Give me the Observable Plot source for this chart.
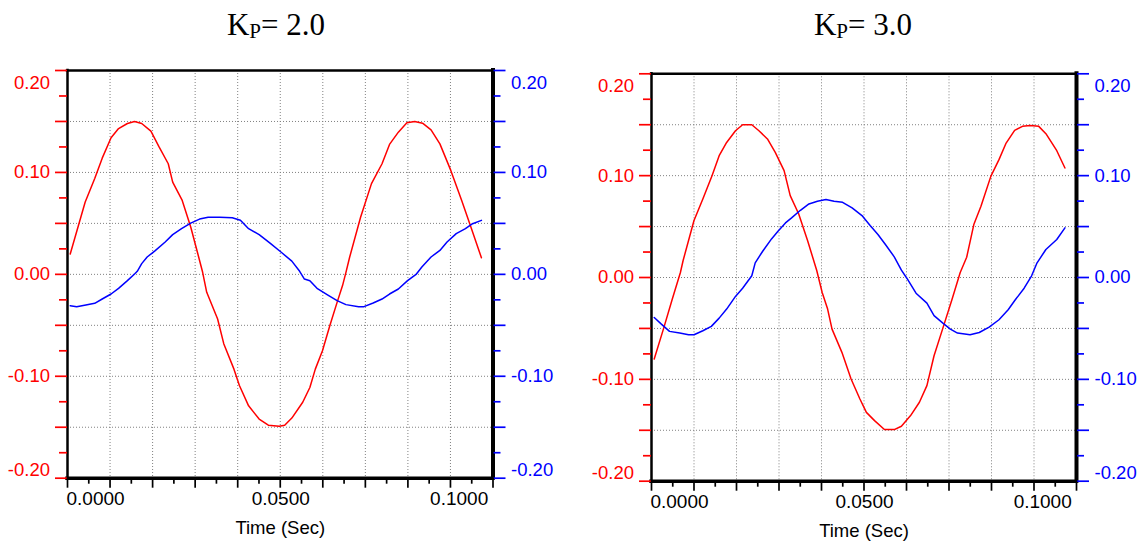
<!DOCTYPE html>
<html>
<head>
<meta charset="utf-8">
<script src="https://cdn.jsdelivr.net/npm/d3@7"></script>
<script src="https://cdn.jsdelivr.net/npm/@observablehq/plot@0.6"></script>
<style>
  html, body { margin: 0; padding: 0; background: #fff; }
  #root { position: relative; width: 1144px; height: 545px; background: #fff; overflow: hidden; }
  .title { position: absolute; top: 9px; width: 200px; text-align: center;
           font-family: "Liberation Serif", "Times New Roman", serif; font-size: 31px;
           line-height: 31px; color: #000; white-space: nowrap; }
  .title .sub { font-size: 21px; position: relative; top: 3px; }
  .panel { position: absolute; top: 0; }
</style>
</head>
<body>
<div id="root"></div>
<script>
// ---------- data ----------
const panelTitles = ["2.0", "3.0"];
const xDomain = [-0.0125, 0.1125];
const yDomain = [-0.2, 0.2];

const xMajorTicks = [-0.0125, 0, 0.0125, 0.025, 0.0375, 0.05, 0.0625, 0.075, 0.0875, 0.1, 0.1125];
const xMinorTicks = [-0.00625, 0.00625, 0.01875, 0.03125, 0.04375, 0.05625, 0.06875, 0.08125, 0.09375, 0.10625];
const xGridTicks = [0, 0.0125, 0.025, 0.0375, 0.05, 0.0625, 0.075, 0.0875, 0.1];
const yMajorTicks = [-0.2, -0.15, -0.1, -0.05, 0, 0.05, 0.1, 0.15, 0.2];
const yMinorTicks = [-0.175, -0.125, -0.075, -0.025, 0.025, 0.075, 0.125, 0.175];
const yGridTicks = [-0.15, -0.1, -0.05, 0, 0.05, 0.1, 0.15];
const xTickValues = [0, 0.05, 0.1];
const xTickLabels = ["0.0000", "0.0500", "0.1000"];
const yTickValues = [0.2, 0.1, 0, -0.1, -0.2];
const yTickLabels = ["0.20", "0.10", "0.00", "-0.10", "-0.20"];
const xAxisTitle = "Time (Sec)";

// Kp = 2.0
const kp2RedT = [-0.0117,-0.0073,-0.0045,-0.0023,0.0003,0.0025,0.0051,0.0072,0.0093,0.012,0.0144,0.0171,0.0184,0.0212,0.0237,0.0258,0.0272,0.0284,0.0316,0.0334,0.0364,0.038,0.0407,0.0438,0.0465,0.0497,0.0513,0.0534,0.0566,0.0587,0.0603,0.0624,0.0646,0.0667,0.0683,0.0693,0.0704,0.0736,0.0768,0.0799,0.0821,0.0847,0.0872,0.0895,0.0918,0.0943,0.0969,0.1001,0.1033,0.106,0.1091];
const kp2Red  = [0.020,0.071,0.094,0.114,0.134,0.143,0.148,0.150,0.148,0.1405,0.125,0.1085,0.0905,0.0725,0.0464,0.020,0.002,-0.0176,-0.0438,-0.068,-0.093,-0.109,-0.129,-0.142,-0.148,-0.149,-0.148,-0.141,-0.1255,-0.111,-0.093,-0.075,-0.050,-0.0275,-0.011,0.002,0.017,0.056,0.089,0.1085,0.1275,0.1395,0.1487,0.150,0.1483,0.1418,0.128,0.102,0.0725,0.0464,0.0163];
const kp2BlueT = [-0.0117,-0.0098,-0.0071,-0.0045,-0.0023,0.0003,0.0025,0.0051,0.0072,0.008,0.0093,0.0109,0.0131,0.0162,0.0184,0.021,0.0237,0.0263,0.0288,0.0322,0.0359,0.0383,0.0407,0.0438,0.047,0.0502,0.0534,0.0557,0.0571,0.0587,0.0608,0.064,0.0667,0.0693,0.073,0.0746,0.0773,0.0799,0.0821,0.0847,0.0874,0.09,0.0916,0.0943,0.0969,0.099,0.1017,0.1044,0.1065,0.1091];
const kp2Blue  = [-0.0307,-0.0317,-0.030,-0.0284,-0.0242,-0.0193,-0.0137,-0.0062,0.0003,0.003,0.0105,0.017,0.0228,0.0317,0.039,0.0448,0.0503,0.0542,0.056,0.056,0.0555,0.053,0.0448,0.039,0.0307,0.0219,0.013,0.003,-0.0046,-0.0062,-0.0137,-0.0203,-0.0258,-0.0297,-0.0317,-0.0317,-0.0281,-0.0242,-0.0193,-0.0144,-0.0062,0.0003,0.0072,0.017,0.0235,0.0317,0.040,0.0448,0.0497,0.053];

// Kp = 3.0
const kp3RedT = [-0.0117,-0.009,-0.0064,-0.004,-0.0032,0.000,0.0026,0.0053,0.0074,0.0096,0.0122,0.0143,0.017,0.0191,0.0216,0.0239,0.0265,0.0283,0.0308,0.0334,0.0361,0.0377,0.0393,0.0406,0.0435,0.0462,0.0488,0.0507,0.0531,0.056,0.0589,0.061,0.0637,0.0663,0.0685,0.0706,0.0732,0.0759,0.0783,0.0802,0.0823,0.0844,0.0873,0.0897,0.0918,0.0943,0.0966,0.0989,0.1014,0.1035,0.1067,0.1091];
const kp3Red  = [-0.080,-0.0507,-0.0213,0.0049,0.0167,0.0559,0.0771,0.100,0.1196,0.1326,0.1441,0.150,0.150,0.1441,0.136,0.1229,0.1049,0.0804,0.0624,0.0363,0.0069,-0.0147,-0.031,-0.0507,-0.0735,-0.0997,-0.1193,-0.1324,-0.1405,-0.1493,-0.1493,-0.146,-0.1356,-0.1225,-0.1062,-0.0768,-0.0497,-0.0213,0.0049,0.0199,0.052,0.0699,0.0993,0.1157,0.132,0.1444,0.1484,0.1493,0.1484,0.1412,0.1245,0.1075];
const kp3BlueT = [-0.0117,-0.0096,-0.0072,-0.0042,-0.0016,0.000,0.0026,0.0051,0.0074,0.0096,0.0122,0.0143,0.017,0.018,0.0202,0.0228,0.0247,0.0269,0.0287,0.0313,0.0338,0.0363,0.0388,0.0412,0.0437,0.0465,0.0494,0.0518,0.0541,0.0563,0.0589,0.061,0.0626,0.0653,0.0685,0.0706,0.0732,0.0754,0.0775,0.0812,0.0839,0.0868,0.0897,0.0924,0.0945,0.0971,0.0993,0.1009,0.1035,0.1067,0.1091];
const kp3Blue  = [-0.0392,-0.0458,-0.0529,-0.0546,-0.0562,-0.0562,-0.0523,-0.048,-0.0399,-0.031,-0.0186,-0.0105,0.0017,0.0144,0.0258,0.0379,0.0454,0.0536,0.0585,0.066,0.0722,0.0748,0.0765,0.0748,0.0738,0.0683,0.0608,0.051,0.0422,0.0324,0.0203,0.0072,-0.0007,-0.0154,-0.0252,-0.0375,-0.0448,-0.0507,-0.0546,-0.0562,-0.054,-0.0487,-0.0415,-0.0317,-0.0219,-0.0105,0.0017,0.0144,0.0275,0.0373,0.0487];

// ---------- drawing ----------
const FONT = '"Liberation Sans", Arial, Helvetica, sans-serif';
const RED = "#ff0000", BLUE = "#0000ff";

function panel(redT, red, blueT, blue, m) {
  const marks = [
    Plot.gridX({ticks: xGridTicks, stroke: "#808080", strokeOpacity: 1, strokeWidth: 1, strokeDasharray: "1,2"}),
    Plot.gridY({ticks: yGridTicks, stroke: "#808080", strokeOpacity: 1, strokeWidth: 1, strokeDasharray: "1,2"}),
    Plot.line(red, {x: redT, y: red, stroke: RED, strokeWidth: 1.5}),
    Plot.line(blue, {x: blueT, y: blue, stroke: BLUE, strokeWidth: 1.5}),
    // frame
    Plot.ruleX([xDomain[0]], {stroke: "black", strokeWidth: 2.5, strokeLinecap: "square"}),
    Plot.ruleY([yDomain[1]], {stroke: "black", strokeWidth: 2.5, strokeLinecap: "square"}),
    Plot.ruleX([xDomain[1]], {stroke: "black", strokeWidth: 4, strokeLinecap: "square"}),
    Plot.ruleY([yDomain[0]], {stroke: "black", strokeWidth: 3.5, strokeLinecap: "square"}),
    // ticks
    Plot.axisY({anchor: "left", ticks: yMajorTicks, tickSize: 12, stroke: RED, fill: "none", strokeWidth: 1.7, label: null}),
    Plot.axisY({anchor: "left", ticks: yMinorTicks, tickSize: 8, stroke: RED, fill: "none", strokeWidth: 1.7, label: null}),
    Plot.axisY({anchor: "right", ticks: yMajorTicks, tickSize: 12, stroke: BLUE, fill: "none", strokeWidth: 1.7, label: null}),
    Plot.axisY({anchor: "right", ticks: yMinorTicks, tickSize: 7, stroke: BLUE, fill: "none", strokeWidth: 1.7, label: null}),
    Plot.axisX({anchor: "bottom", ticks: xMajorTicks, tickSize: 10, stroke: "black", fill: "none", strokeWidth: 1.7, label: null}),
    Plot.axisX({anchor: "bottom", ticks: xMinorTicks, tickSize: 6, stroke: "black", fill: "none", strokeWidth: 1.7, label: null}),
    Plot.text([0.05], {x: d => d, frameAnchor: "bottom", lineAnchor: "middle", dy: 49.5, text: () => xAxisTitle, fill: "black", fontSize: 18.5})
  ];
  const yDy = [12.5, 0, 0, 0, -8];
  yTickValues.forEach((v, i) => {
    marks.push(Plot.text([v], {y: d => d, frameAnchor: "left", lineAnchor: "middle", dx: -17.5, dy: yDy[i], textAnchor: "end",
      text: () => yTickLabels[i], fill: RED, fontSize: 18.5}));
    marks.push(Plot.text([v], {y: d => d, frameAnchor: "right", lineAnchor: "middle", dx: 18, dy: yDy[i], textAnchor: "start",
      text: () => yTickLabels[i], fill: BLUE, fontSize: 18.5}));
  });
  const xDx = [-14.5, 0.5, 8.7];
  xTickValues.forEach((v, i) => {
    marks.push(Plot.text([v], {x: d => d, frameAnchor: "bottom", lineAnchor: "middle", dy: 21, dx: xDx[i],
      text: () => xTickLabels[i], fill: "black", fontSize: 19}));
  });
  const svg = Plot.plot({
    width: 572,
    height: 545,
    marginLeft: m.left, marginRight: m.right, marginTop: m.top, marginBottom: m.bottom,
    x: {domain: xDomain, axis: null},
    y: {domain: yDomain, axis: null},
    style: {fontFamily: FONT, background: "transparent", overflow: "visible"},
    marks
  });
  return svg;
}

const root = document.getElementById("root");
const configs = [
  {redT: kp2RedT, red: kp2Red, blueT: kp2BlueT, blue: kp2Blue, left: 0, titleCenter: 276,
   m: {left: 67, right: 79.5, top: 70, bottom: 67.3}},
  {redT: kp3RedT, red: kp3Red, blueT: kp3BlueT, blue: kp3Blue, left: 572, titleCenter: 863,
   m: {left: 79, right: 68, top: 73.3, bottom: 64.3}}
];
configs.forEach((c, i) => {
  const svg = panel(c.redT, c.red, c.blueT, c.blue, c.m);
  svg.classList.add("panel");
  svg.style.left = c.left + "px";
  root.appendChild(svg);
  const t = document.createElement("div");
  t.className = "title";
  t.style.left = (c.titleCenter - 100) + "px";
  t.innerHTML = 'K<span class="sub">P</span>= ' + panelTitles[i];
  root.appendChild(t);
});
</script>
</body>
</html>
